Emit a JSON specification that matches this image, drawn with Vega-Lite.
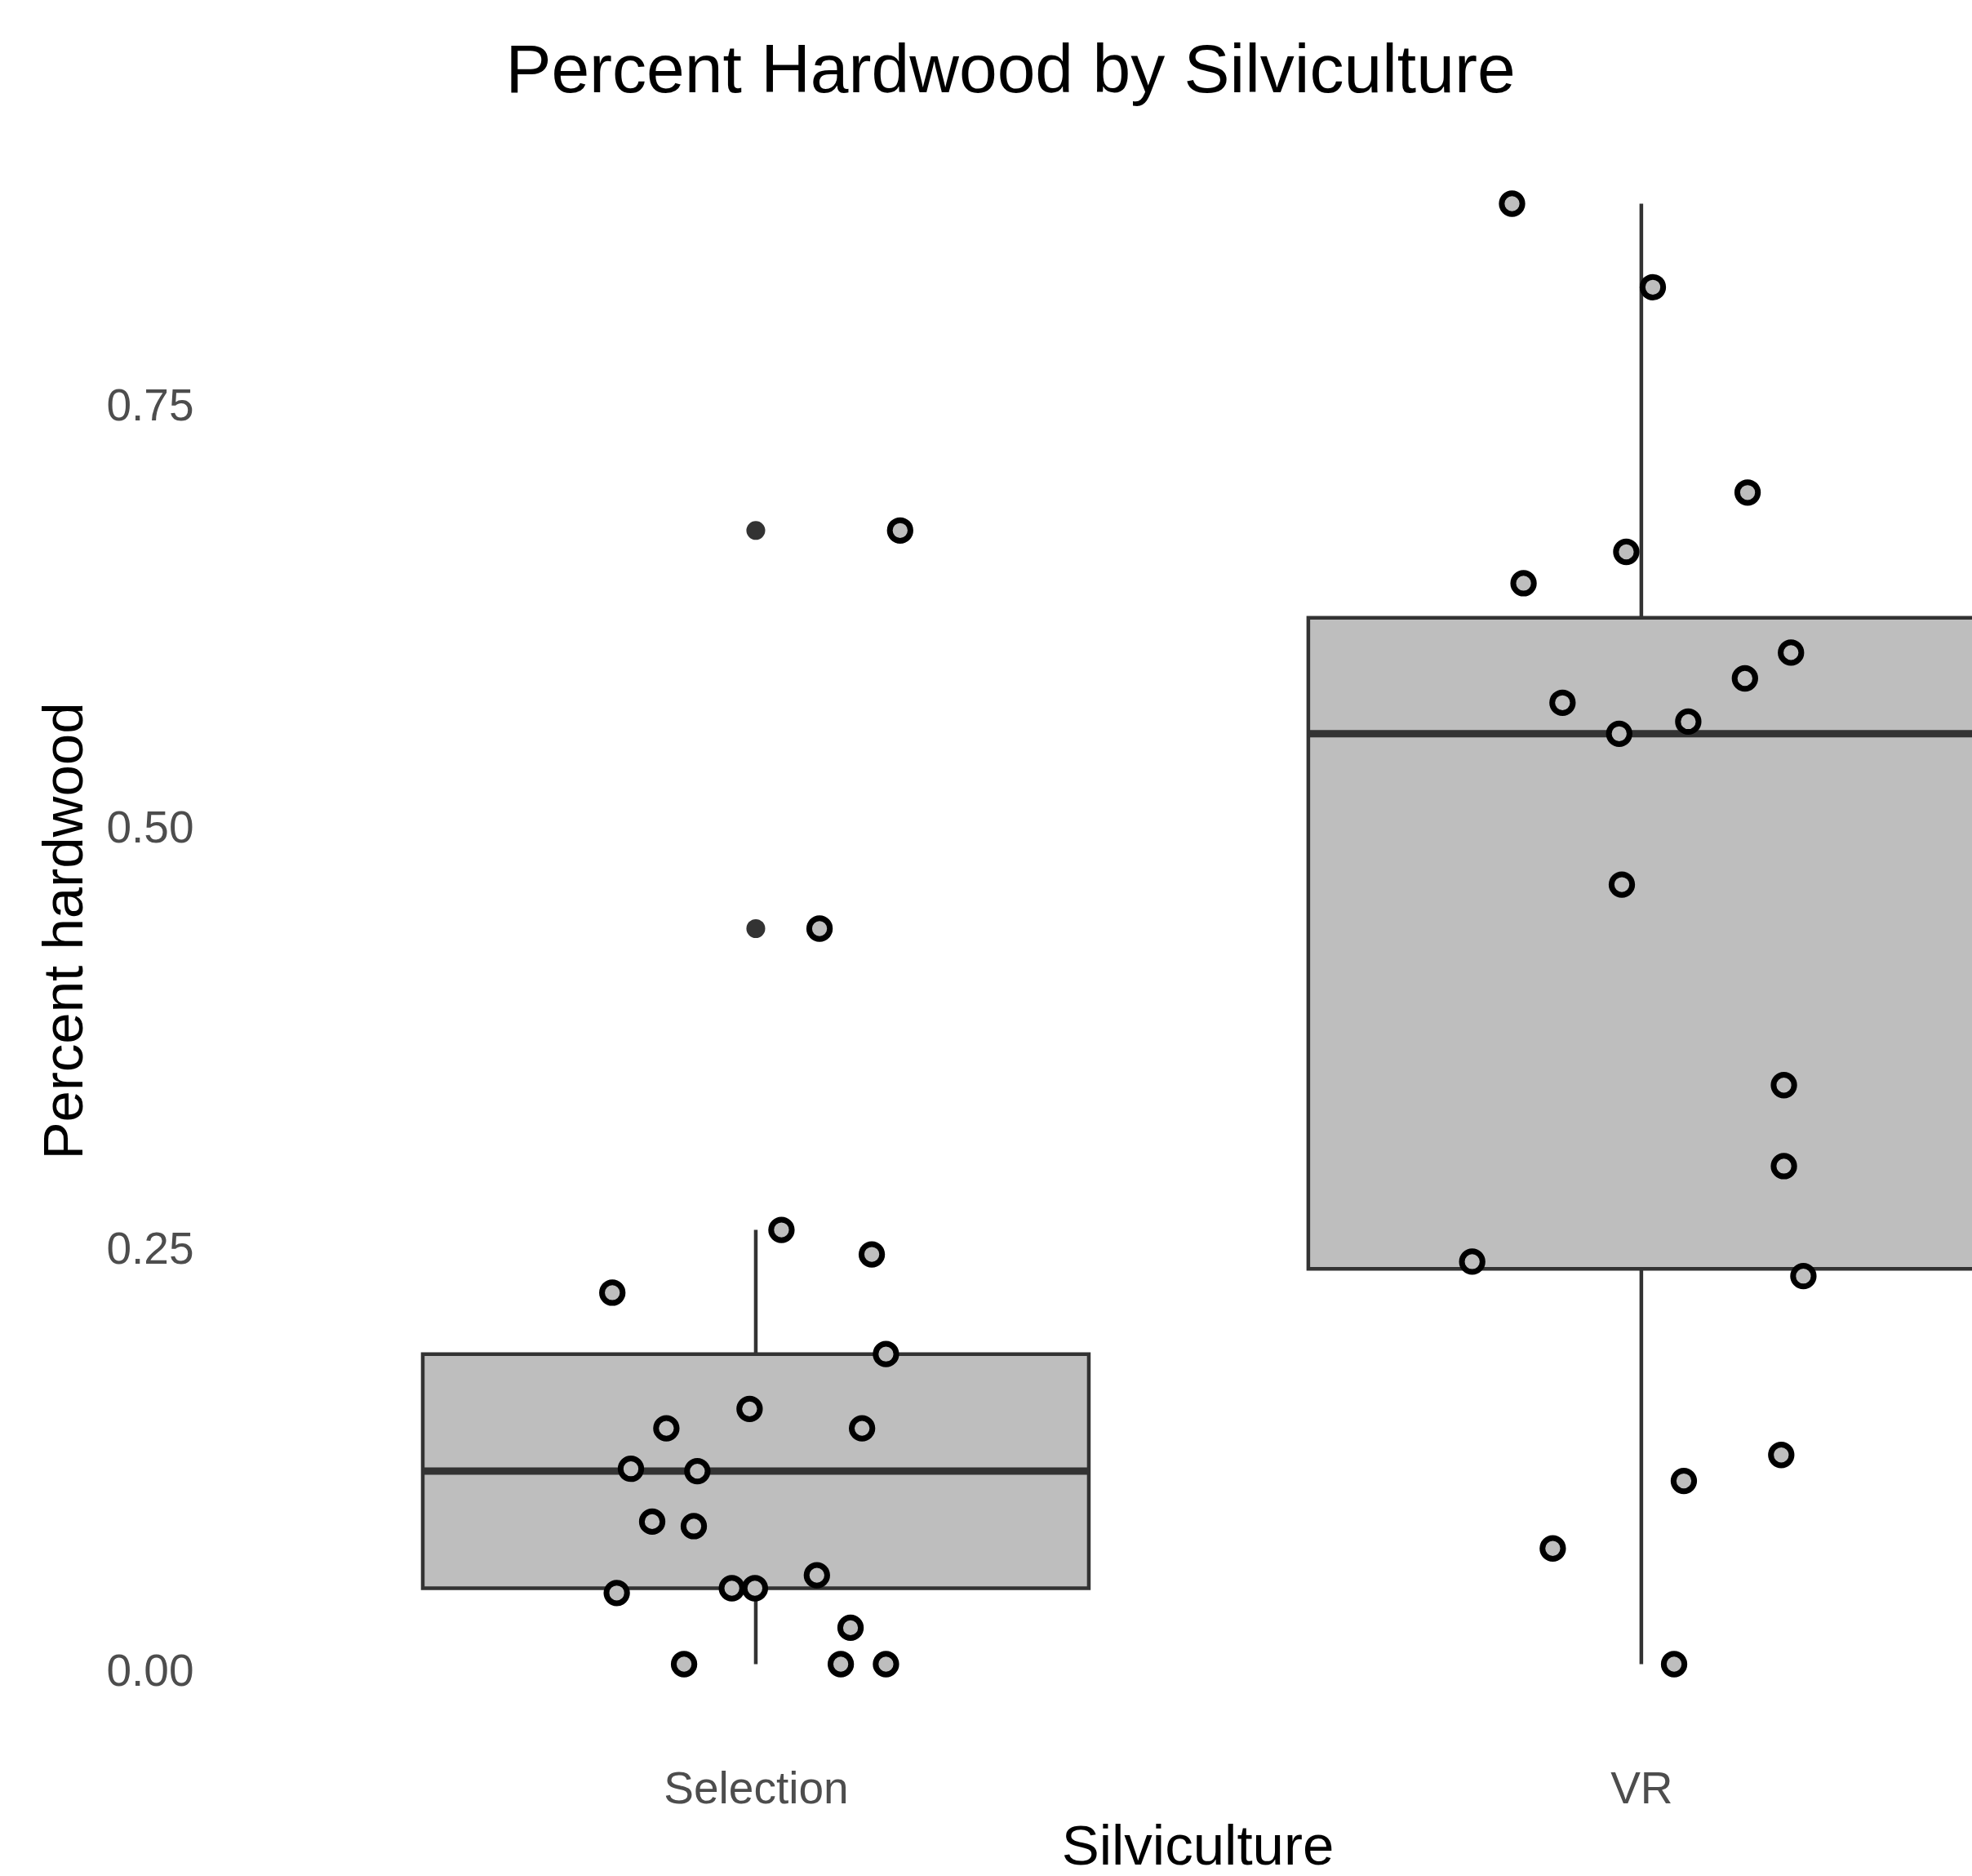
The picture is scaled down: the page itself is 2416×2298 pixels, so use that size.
{
  "$schema": "https://vega.github.io/schema/vega-lite/v6.json",
  "description": "Percent hardwood by silviculture, boxplot with jittered points",
  "width": 2146,
  "height": 1968,
  "autosize": {"type": "none"},
  "padding": {"left": 270, "top": 160, "right": 0, "bottom": 170},
  "background": "white",
  "config": {
    "view": {"stroke": null},
    "font": "Liberation Sans"
  },
  "title": {
    "text": "Percent Hardwood by Silviculture",
    "font": "Liberation Sans",
    "fontSize": 84,
    "fontWeight": "normal",
    "color": "black",
    "anchor": "middle",
    "frame": "group",
    "dx": -105,
    "dy": 85,
    "offset": 48,
    "baseline": "alphabetic"
  },
  "datasets": {
    "box": [
      {"group": "Selection", "pos": 1, "lo": 0, "q1": 0.045, "med": 0.1144, "q3": 0.1838, "hi": 0.2574},
      {"group": "VR", "pos": 2, "lo": 0, "q1": 0.2343, "med": 0.5515, "q3": 0.6202, "hi": 0.8657}
    ],
    "outliers": [
      {"group": "Selection", "pos": 1, "value": 0.672},
      {"group": "Selection", "pos": 1, "value": 0.436}
    ],
    "points": [
      {"group": "Selection", "pos": 1.163, "value": 0.672},
      {"group": "Selection", "pos": 1.072, "value": 0.436},
      {"group": "Selection", "pos": 1.029, "value": 0.2574},
      {"group": "Selection", "pos": 1.131, "value": 0.2429},
      {"group": "Selection", "pos": 0.838, "value": 0.2202},
      {"group": "Selection", "pos": 1.147, "value": 0.1838},
      {"group": "Selection", "pos": 0.993, "value": 0.1513},
      {"group": "Selection", "pos": 0.899, "value": 0.1398},
      {"group": "Selection", "pos": 1.12, "value": 0.1398},
      {"group": "Selection", "pos": 0.859, "value": 0.1158},
      {"group": "Selection", "pos": 0.934, "value": 0.1144},
      {"group": "Selection", "pos": 0.883, "value": 0.0845},
      {"group": "Selection", "pos": 0.93, "value": 0.0818},
      {"group": "Selection", "pos": 0.843, "value": 0.0422},
      {"group": "Selection", "pos": 0.973, "value": 0.045},
      {"group": "Selection", "pos": 0.999, "value": 0.045},
      {"group": "Selection", "pos": 1.069, "value": 0.0527},
      {"group": "Selection", "pos": 1.107, "value": 0.0216},
      {"group": "Selection", "pos": 0.919, "value": 0},
      {"group": "Selection", "pos": 1.096, "value": 0},
      {"group": "Selection", "pos": 1.147, "value": 0},
      {"group": "VR", "pos": 1.854, "value": 0.8657},
      {"group": "VR", "pos": 2.013, "value": 0.8162},
      {"group": "VR", "pos": 2.12, "value": 0.6945},
      {"group": "VR", "pos": 1.983, "value": 0.6593},
      {"group": "VR", "pos": 1.867, "value": 0.6407},
      {"group": "VR", "pos": 2.169, "value": 0.5996},
      {"group": "VR", "pos": 2.117, "value": 0.5843},
      {"group": "VR", "pos": 1.911, "value": 0.5699},
      {"group": "VR", "pos": 2.053, "value": 0.5587},
      {"group": "VR", "pos": 1.975, "value": 0.5515},
      {"group": "VR", "pos": 1.978, "value": 0.4621},
      {"group": "VR", "pos": 2.161, "value": 0.3432},
      {"group": "VR", "pos": 2.161, "value": 0.2952},
      {"group": "VR", "pos": 1.809, "value": 0.2386},
      {"group": "VR", "pos": 2.183, "value": 0.23},
      {"group": "VR", "pos": 2.158, "value": 0.124},
      {"group": "VR", "pos": 2.048, "value": 0.1086},
      {"group": "VR", "pos": 1.9, "value": 0.0686},
      {"group": "VR", "pos": 2.037, "value": 0}
    ]
  },
  "layer": [
    {
      "data": {"name": "box"},
      "mark": {"type": "rule", "color": "#333333", "strokeWidth": 4.5, "clip": true},
      "encoding": {
        "x": {
          "field": "pos",
          "type": "quantitative",
          "title": "Silviculture",
          "scale": {"domain": [0.4, 2.3688], "nice": false, "zero": false},
          "axis": {
            "values": [1, 2],
            "labelExpr": "datum.value == 1 ? 'Selection' : 'VR'",
            "labelFont": "Liberation Sans",
            "labelFontSize": 55,
            "labelColor": "#4D4D4D",
            "labelPadding": 80,
            "labelBaseline": "alphabetic",
            "labelLimit": 0,
            "labelFlush": false,
            "labelOverlap": false,
            "titleFont": "Liberation Sans",
            "titleFontSize": 69,
            "titleFontWeight": "normal",
            "titleColor": "black",
            "titleX": 1197,
            "titleY": 155,
            "titleAlign": "center",
            "titleBaseline": "alphabetic",
            "domain": false,
            "ticks": false,
            "tickSize": 0,
            "grid": false
          }
        },
        "y": {
          "field": "lo",
          "type": "quantitative",
          "title": "Percent hardwood",
          "scale": {"domain": [-0.0433, 0.909], "nice": false, "zero": false},
          "axis": {
            "values": [0, 0.25, 0.5, 0.75],
            "format": ".2f",
            "labelFont": "Liberation Sans",
            "labelFontSize": 55,
            "labelColor": "#4D4D4D",
            "labelPadding": 33,
            "labelOffset": 9,
            "labelBaseline": "middle",
            "labelLimit": 0,
            "labelFlush": false,
            "labelOverlap": false,
            "titleFont": "Liberation Sans",
            "titleFontSize": 69,
            "titleFontWeight": "normal",
            "titleColor": "black",
            "titleAngle": 270,
            "titleX": -170,
            "titleY": 980,
            "titleAlign": "center",
            "titleBaseline": "alphabetic",
            "domain": false,
            "ticks": false,
            "tickSize": 0,
            "grid": false
          }
        },
        "y2": {"field": "hi"}
      }
    },
    {
      "data": {"name": "box"},
      "mark": {"type": "bar", "width": 816, "fill": "#BEBEBE", "stroke": "#333333", "strokeWidth": 4.5, "clip": true},
      "encoding": {
        "x": {"field": "pos", "type": "quantitative", "title": "Silviculture"},
        "y": {"field": "q1", "type": "quantitative", "title": "Percent hardwood"},
        "y2": {"field": "q3"}
      }
    },
    {
      "data": {"name": "box"},
      "mark": {"type": "tick", "orient": "horizontal", "size": 816, "thickness": 9, "color": "#333333", "opacity": 1, "clip": true},
      "encoding": {
        "x": {"field": "pos", "type": "quantitative", "title": "Silviculture"},
        "y": {"field": "med", "type": "quantitative", "title": "Percent hardwood"}
      }
    },
    {
      "data": {"name": "outliers"},
      "mark": {"type": "circle", "size": 531, "color": "#333333", "opacity": 1, "clip": true},
      "encoding": {
        "x": {"field": "pos", "type": "quantitative", "title": "Silviculture"},
        "y": {"field": "value", "type": "quantitative", "title": "Percent hardwood"}
      }
    },
    {
      "data": {"name": "points"},
      "mark": {"type": "point", "shape": "circle", "size": 640, "filled": true, "fill": "#BEBEBE", "stroke": "black", "strokeWidth": 7, "opacity": 1, "clip": true},
      "encoding": {
        "x": {"field": "pos", "type": "quantitative", "title": "Silviculture"},
        "y": {"field": "value", "type": "quantitative", "title": "Percent hardwood"}
      }
    }
  ]
}
